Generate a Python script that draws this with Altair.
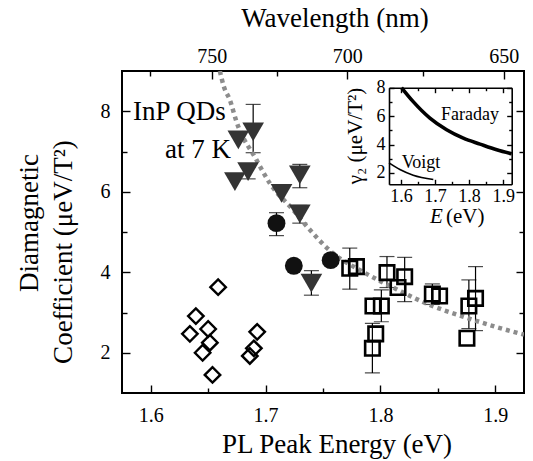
import altair as alt
import pandas as pd

FONT = "'Liberation Serif', 'Times New Roman', 'DejaVu Serif', serif"

# ---------------- data ----------------
tri_E = [1.6763, 1.6892, 1.6733, 1.6848, 1.7139, 1.7298, 1.7298, 1.7399]
tri_v = [7.29, 7.49, 6.25, 6.50, 5.96, 6.42, 5.45, 3.73]

cir_E = [1.7095, 1.7246, 1.7567]
cir_v = [5.22, 4.16, 4.30]

sq_E = [1.7733, 1.7791, 1.8057, 1.8211, 1.8153, 1.7935, 1.8008, 1.7959, 1.7930,
        1.8452, 1.8515, 1.8770, 1.8828, 1.8753]
sq_v = [4.10, 4.14, 3.99, 3.89, 3.62, 3.16, 3.16, 2.47, 2.11,
        3.46, 3.41, 3.16, 3.35, 2.36]

dia_E = [1.6341, 1.6393, 1.6500, 1.6515, 1.6452, 1.6538, 1.6587, 1.6863, 1.6898, 1.6927]
dia_v = [2.47, 2.91, 2.59, 2.25, 2.00, 1.45, 3.63, 1.92, 2.11, 2.52]

err_E = [1.6892, 1.6848, 1.7298, 1.7298, 1.7399, 1.7095, 1.7733, 1.8057, 1.8211,
         1.8008, 1.7930, 1.8452, 1.8770, 1.8828]
err_lo = [6.97, 6.32, 6.10, 5.22, 3.43, 4.91, 3.58, 3.62, 3.27, 2.77, 1.50, 3.20, 2.60, 2.55]
err_hi = [8.17, 6.62, 6.68, 5.66, 4.04, 5.48, 4.60, 4.39, 4.37, 3.56, 2.73, 3.71, 3.81, 4.14]

fit_E = [1.6602, 1.6637, 1.6689, 1.6747, 1.6921, 1.7037, 1.7240, 1.7356, 1.7588,
         1.7848, 1.8139, 1.8428, 1.8718, 1.9008, 1.9250]
fit_v = [9.00, 8.61, 8.28, 7.74, 6.79, 6.21, 5.55, 5.15, 4.47,
         4.01, 3.58, 3.19, 2.90, 2.64, 2.45]

far_E = [1.602, 1.636, 1.685, 1.734, 1.783, 1.832, 1.881, 1.925]
far_v = [8.00, 7.02, 5.86, 5.04, 4.45, 4.03, 3.63, 3.35]
voi_E = [1.565, 1.597, 1.636, 1.695]
voi_v = [2.71, 2.24, 1.84, 1.54]

x_major = [1.6, 1.7, 1.8, 1.9]
x_minor = [1.65, 1.75, 1.85]
y_major = [2, 4, 6, 8]
y_minor = [3, 5, 7]
wl_major = [750, 700, 650]
wl_minor = [775, 725, 675]
HC = 1239.84

# inset ticks
ix_major = [1.6, 1.7, 1.8, 1.9]
ix_minor = [1.65, 1.75, 1.85]
iy_major = [2, 4, 6, 8]
iy_minor = [3, 5, 7]

W, H = 402, 322

XS = alt.Scale(domain=[1.575, 1.925], nice=False, zero=False)
YS = alt.Scale(domain=[1, 9], nice=False, zero=False)
IXS = alt.Scale(domain=[1.565, 1.925], range=[267, 389.7], nice=False, zero=False)
IYS = alt.Scale(domain=[1.2, 8], range=[113.3, 16.7], nice=False, zero=False)

base_ax = dict(grid=False, title=None, domain=False, tickColor="black", tickWidth=1.4,
               labelFont=FONT, labelColor="black", labelFlush=False, labelOverlap=False)


def ax(**kw):
    d = dict(base_ax)
    d.update(kw)
    return alt.Axis(**d)


anchor = pd.DataFrame({"E": [1.75], "v": [5.0]})
ianchor = pd.DataFrame({"E": [1.75], "v": [5.0]})


def axis_layer(df, xs, ys, xaxis, yaxis):
    return alt.Chart(df).mark_point(opacity=0).encode(
        x=alt.X("E:Q", scale=xs, axis=xaxis),
        y=alt.Y("v:Q", scale=ys, axis=yaxis),
    )


wl_major_E = [HC / w for w in wl_major]
wl_minor_E = [HC / w for w in wl_minor]

MJ, MN = 8, 5
main_axes = [
    axis_layer(anchor, XS, YS,
               ax(orient="bottom", values=x_major, tickSize=MJ, offset=-MJ, labelFontSize=20,
                  labelBaseline="alphabetic", labelPadding=28, format=".1f"),
               ax(orient="left", values=y_major, tickSize=MJ, offset=-MJ, labelFontSize=20,
                  labelPadding=12, format="d")),
    axis_layer(anchor, XS, YS,
               ax(orient="bottom", values=x_minor, tickSize=MN, offset=-MN, labels=False),
               ax(orient="left", values=y_minor, tickSize=MN, offset=-MN, labels=False)),
    axis_layer(anchor, XS, YS,
               ax(orient="top", values=wl_major_E, tickSize=MJ, offset=-MJ, labelFontSize=20,
                  labelBaseline="alphabetic", labelPadding=9,
                  labelExpr=f"format({HC}/datum.value, '.0f')"),
               ax(orient="right", values=y_major, tickSize=MJ, offset=-MJ, labels=False)),
    axis_layer(anchor, XS, YS,
               ax(orient="top", values=wl_minor_E, tickSize=MN, offset=-MN, labels=False),
               ax(orient="right", values=y_minor, tickSize=MN, offset=-MN, labels=False)),
]

xe = alt.X("E:Q", scale=XS, axis=None)

err_df = pd.DataFrame({"E": err_E, "lo": err_lo, "hi": err_hi})
cap_df = pd.DataFrame({"E": err_E + err_E, "v": err_lo + err_hi})

err_rule = alt.Chart(err_df).mark_rule(color="black", strokeWidth=1.2).encode(
    x=xe, y=alt.Y("lo:Q", scale=YS, axis=None), y2="hi:Q")
err_cap = alt.Chart(cap_df).mark_tick(color="black", orient="horizontal", size=15,
                                      thickness=1.2).encode(
    x=xe, y=alt.Y("v:Q", scale=YS, axis=None))

fit = alt.Chart(pd.DataFrame({"E": fit_E, "v": fit_v})).mark_line(
    color="#8c8c8c", strokeWidth=4.5, strokeDash=[4, 4], interpolate="monotone", clip=True
).encode(x=xe, y=alt.Y("v:Q", scale=YS, axis=None), order="E:Q")

dia = alt.Chart(pd.DataFrame({"E": dia_E, "v": dia_v})).mark_point(
    shape="diamond", size=240, filled=False, stroke="black", strokeWidth=2.4, opacity=1
).encode(x=xe, y=alt.Y("v:Q", scale=YS, axis=None))

sq = alt.Chart(pd.DataFrame({"E": sq_E, "v": sq_v})).mark_point(
    shape="square", size=210, filled=False, stroke="black", strokeWidth=2.6, opacity=1
).encode(x=xe, y=alt.Y("v:Q", scale=YS, axis=None))

tri = alt.Chart(pd.DataFrame({"E": tri_E, "v": tri_v})).mark_point(
    shape="triangle-down", size=470, filled=True, color="#343434", opacity=1
).encode(x=xe, y=alt.Y("v:Q", scale=YS, axis=None))

cir = alt.Chart(pd.DataFrame({"E": cir_E, "v": cir_v})).mark_point(
    shape="circle", size=320, filled=True, color="#111111", opacity=1
).encode(x=xe, y=alt.Y("v:Q", scale=YS, axis=None))


def label(text, x, y, size=27, angle=0, align="left", baseline="alphabetic", style="normal"):
    kw = dict(font=FONT, fontSize=size, color="black", align=align, baseline=baseline,
              fontStyle=style, text=text)
    if angle:
        kw["angle"] = angle
    return alt.Chart(anchor).mark_text(**kw).encode(x=alt.value(x), y=alt.value(y))


texts = [
    label("InP QDs", 11, 49),
    label("at 7 K", 43, 87),
    label("Wavelength (nm)", 213, -44, align="center"),
    label("PL Peak Energy (eV)", 215, 382, align="center"),
    label("Diamagnetic", -84, 152, angle=270, align="center"),
    label("Coefficient (μeV/T²)", -50, 181, angle=270, align="center"),
    label("Faraday", 348, 49, size=18, align="center"),
    label("Voigt", 299, 97, size=18, align="center"),
    label("E", 308, 152, size=21, style="italic"),
    label("(eV)", 324, 152, size=21),
    label("γ₂ (μeV/T²)", 240, 65, size=21, angle=270, align="center"),
]

main = alt.layer(*main_axes, err_rule, err_cap, fit, dia, sq, tri, cir, *texts).resolve_axis(
    x="independent", y="independent")

# ---------------- inset ----------------
IB, IL, IT, IR = -208.7, -267, -16.7, -12.3
IMJ, IMN = 5, 3
inset_axes = [
    axis_layer(ianchor, IXS, IYS,
               ax(orient="bottom", values=ix_major, ticks=False, domain=True, domainColor="black",
                  domainWidth=1.6, offset=IB, labelFontSize=18, labelBaseline="alphabetic",
                  labelPadding=17, format=".1f"),
               ax(orient="left", values=iy_major, ticks=False, domain=True, domainColor="black",
                  domainWidth=1.6, offset=IL, labelFontSize=18, labelPadding=4, format="d")),
    axis_layer(ianchor, IXS, IYS,
               ax(orient="top", values=ix_major, ticks=False, domain=True, domainColor="black",
                  domainWidth=1.6, offset=IT, labels=False),
               ax(orient="right", values=iy_major, ticks=False, domain=True, domainColor="black",
                  domainWidth=1.6, offset=IR, labels=False)),
    axis_layer(ianchor, IXS, IYS,
               ax(orient="bottom", values=ix_major, tickSize=IMJ, offset=IB - IMJ, labels=False),
               ax(orient="left", values=iy_major, tickSize=IMJ, offset=IL - IMJ, labels=False)),
    axis_layer(ianchor, IXS, IYS,
               ax(orient="bottom", values=ix_minor, tickSize=IMN, offset=IB - IMN, labels=False),
               ax(orient="left", values=iy_minor, tickSize=IMN, offset=IL - IMN, labels=False)),
    axis_layer(ianchor, IXS, IYS,
               ax(orient="top", values=ix_major, tickSize=IMJ, offset=IT - IMJ, labels=False),
               ax(orient="right", values=iy_major, tickSize=IMJ, offset=IR - IMJ, labels=False)),
    axis_layer(ianchor, IXS, IYS,
               ax(orient="top", values=ix_minor, tickSize=IMN, offset=IT - IMN, labels=False),
               ax(orient="right", values=iy_minor, tickSize=IMN, offset=IR - IMN, labels=False)),
]

ixe = alt.X("E:Q", scale=IXS, axis=None)
faraday = alt.Chart(pd.DataFrame({"E": far_E, "v": far_v})).mark_line(
    color="black", strokeWidth=3.6, interpolate="monotone"
).encode(x=ixe, y=alt.Y("v:Q", scale=IYS, axis=None), order="E:Q")
voigt = alt.Chart(pd.DataFrame({"E": voi_E, "v": voi_v})).mark_line(
    color="black", strokeWidth=1.6, interpolate="monotone"
).encode(x=ixe, y=alt.Y("v:Q", scale=IYS, axis=None), order="E:Q")

inset = alt.layer(*inset_axes, faraday, voigt).resolve_axis(x="independent", y="independent")

chart = alt.layer(main, inset).resolve_scale(x="independent", y="independent").properties(
    width=W, height=H,
    autosize=alt.AutoSizeParams(type="none"),
    padding={"left": 122, "top": 71, "right": 9, "bottom": 68},
).configure(font=FONT).configure_view(stroke="black", strokeWidth=2).configure_axis(grid=False)

chart.save("out.html", embed_options={"renderer": "svg", "actions": False})
